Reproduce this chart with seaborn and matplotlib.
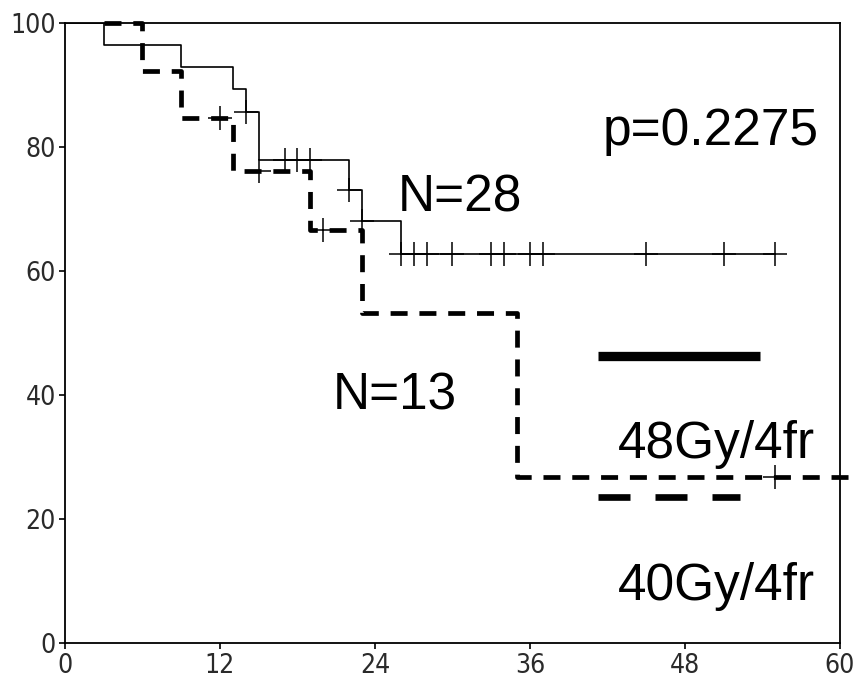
import pandas as pd
import numpy as np
import matplotlib
matplotlib.use("Agg")
import matplotlib.pyplot as plt
import seaborn as sns

# Kaplan-Meier step values (months, % survival)
t_48 = [0, 3, 9, 13, 14, 15, 22, 23, 26, 55]
s_48 = [100, 96.4, 92.9, 89.3, 85.7, 77.9, 73.1, 68.0, 62.7, 62.7]
cens_t_48 = [14, 17, 18, 19, 22, 23, 26, 27, 28, 30, 33, 34, 36, 37, 45, 51, 55]
cens_s_48 = [85.7, 77.9, 77.9, 77.9, 73.1, 68.0] + [62.7] * 11

t_40 = [3, 6, 9, 13, 19, 23, 35, 62]
s_40 = [100, 92.3, 84.6, 76.2, 66.6, 53.3, 26.7, 26.7]
cens_t_40 = [12, 15, 20, 55]
cens_s_40 = [84.6, 76.2, 66.6, 26.7]

x_ticks = [0, 12, 24, 36, 48, 60]
y_ticks = [0, 20, 40, 60, 80, 100]

sns.set_style("ticks")
plt.rcParams['font.family'] = ['Liberation Sans', 'DejaVu Sans']

fig = plt.figure(figsize=(8.56, 6.77), dpi=100)
ax = fig.add_axes([0.0759, 0.0502, 0.9054, 0.9158])

df48 = pd.DataFrame({'t': t_48, 's': s_48})
df40 = pd.DataFrame({'t': t_40, 's': s_40})

sns.lineplot(data=df48, x='t', y='s', ax=ax, estimator=None, sort=False,
             drawstyle='steps-post', color='black', lw=1.2)
sns.lineplot(data=df40, x='t', y='s', ax=ax, estimator=None, sort=False,
             drawstyle='steps-post', color='black', lw=3.4,
             linestyle=(0, (3.6, 2.5)), clip_on=False)

sns.scatterplot(x=cens_t_48, y=cens_s_48, ax=ax, marker='+', s=290,
                color='black', linewidth=1.1, zorder=3)
sns.scatterplot(x=cens_t_40, y=cens_s_40, ax=ax, marker='+', s=290,
                color='black', linewidth=1.1, zorder=3)

ax.set_xlim(0, 60)
ax.set_ylim(0, 100)
ax.set_xticks(x_ticks)
ax.set_yticks(y_ticks)
ax.set_xlabel('')
ax.set_ylabel('')
for sp in ax.spines.values():
    sp.set_visible(True)
    sp.set_linewidth(1.3)
    sp.set_color('black')

ax.tick_params(axis='both', direction='out', length=4, width=1.2,
               colors='black', labelcolor='#2a2a2a')
ax.tick_params(axis='x', pad=3)
ax.tick_params(axis='y', pad=2.5)
for lab in ax.get_xticklabels() + ax.get_yticklabels():
    lab.set_fontfamily(['Liberation Sans Narrow', 'DejaVu Sans'])
    lab.set_fontstretch('condensed')
    lab.set_fontsize(19)

# hand-drawn key
ax.plot([0.688, 0.897], [0.4637, 0.4637], transform=ax.transAxes,
        color='black', lw=6.7, solid_capstyle='butt')
ax.plot([0.688, 0.871], [0.236, 0.236], transform=ax.transAxes,
        color='black', lw=4.8, linestyle=(0, (4.8, 3.75)))

txt = dict(transform=ax.transAxes, fontsize=37, color='black',
           ha='left', va='baseline')
ax.text(0.694, 0.803, 'p=0.2275', **txt)
ax.text(0.430, 0.696, 'N=28', **txt)
ax.text(0.346, 0.377, 'N=13', **txt)
ax.text(0.7135, 0.298, '48Gy/4fr', **txt)
ax.text(0.7135, 0.069, '40Gy/4fr', **txt)

fig.savefig('out.png', dpi=100)
